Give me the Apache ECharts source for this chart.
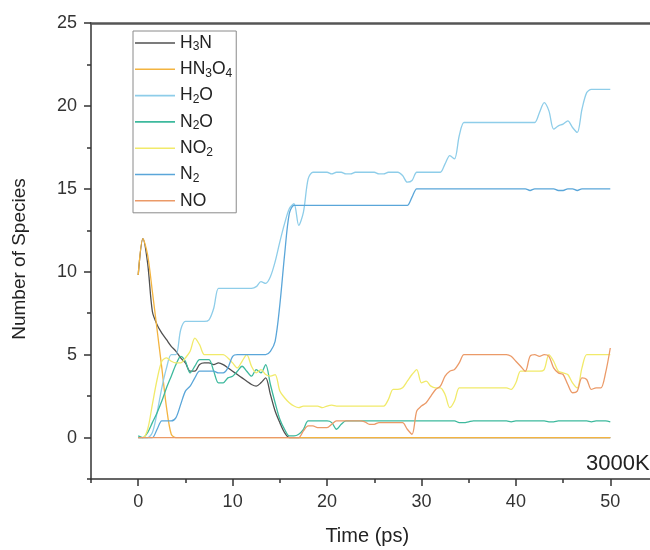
<!DOCTYPE html>
<html>
  <head>
    <title>Species vs time, 3000K</title>
    <meta charset='utf-8' />
    <script src="https://cdn.jsdelivr.net/npm/echarts@6/dist/echarts.min.js"></script>
    <style>
      html, body { margin: 0; padding: 0; background: #fff; }
    </style>
  </head>
  <body>
    <div id="content" style="width: 650px; height: 550px;"></div>

    <script type="text/javascript">
      // time axis, one sample every 0.5 ps from 0 to 50 ps
      var TIME = [];
      for (var k = 0; k <= 100; k++) { TIME.push(k / 2); }

      var NAMES = ['H3N', 'HN3O4', 'H2O', 'N2O', 'NO2', 'N2', 'NO'];
      var COLORS = ['#505050', '#f3b440', '#8ecde9', '#3db99d', '#f1ea6a', '#5aa6d9', '#eb9a68'];

      var X_LABELS = [0, 10, 20, 30, 40, 50];
      var X_MINOR = [-5, 5, 15, 25, 35, 45, 55];
      var Y_LABELS = [0, 5, 10, 15, 20, 25];
      var Y_MINOR = [-2.5, 2.5, 7.5, 12.5, 17.5, 22.5];

      // values, one per 0.5 ps
      var H3N = [
        9.8, 12, 10.5, 7.6, 6.8, 6.3, 5.9, 5.5, 5.2, 4.8,
        4.5, 4.0, 4.0, 4.4, 4.5, 4.5, 4.4, 4.5, 4.4, 4.2,
        4.0, 3.8, 3.6, 3.4, 3.2, 3.1, 3.3, 3.6, 2.6, 1.6,
        0.9, 0.3, 0, 0, 0, 0, 0, 0, 0, 0,
        0, 0, 0, 0, 0, 0, 0, 0, 0, 0,
        0, 0, 0, 0, 0, 0, 0, 0, 0, 0,
        0, 0, 0, 0, 0, 0, 0, 0, 0, 0,
        0, 0, 0, 0, 0, 0, 0, 0, 0, 0,
        0, 0, 0, 0, 0, 0, 0, 0, 0, 0,
        0, 0, 0, 0, 0, 0, 0, 0, 0, 0,
        0
      ];
      var HN3O4 = [
        9.8, 12, 11, 8.8, 6.5, 4.2, 1.8, 0.2, 0, 0,
        0, 0, 0, 0, 0, 0, 0, 0, 0, 0,
        0, 0, 0, 0, 0, 0, 0, 0, 0, 0,
        0, 0, 0, 0, 0, 0, 0, 0, 0, 0,
        0, 0, 0, 0, 0, 0, 0, 0, 0, 0,
        0, 0, 0, 0, 0, 0, 0, 0, 0, 0,
        0, 0, 0, 0, 0, 0, 0, 0, 0, 0,
        0, 0, 0, 0, 0, 0, 0, 0, 0, 0,
        0, 0, 0, 0, 0, 0, 0, 0, 0, 0,
        0, 0, 0, 0, 0, 0, 0, 0, 0, 0,
        0
      ];
      var H2O = [
        0, 0, 0, 0.3, 1.5, 3.0, 4.2, 5.0, 5.0, 6.5,
        7.0, 7.0, 7.0, 7.0, 7.0, 7.1, 7.8, 9.0, 9.0, 9.0,
        9.0, 9.0, 9.0, 9.0, 9.0, 9.1, 9.4, 9.3, 9.7, 10.6,
        11.8, 12.9, 13.8, 14.1, 12.8, 13.6, 15.6, 16.0, 16.0, 16.0,
        16.0, 15.9, 16.0, 16.0, 15.9, 15.9, 16.0, 16.0, 16.0, 16.0,
        16.0, 15.9, 15.9, 16.0, 16.0, 16.0, 15.8, 15.4, 15.5, 16.0,
        16.0, 16.0, 16.0, 16.0, 16.0, 16.5, 17.0, 16.8, 18.2, 19.0,
        19.0, 19.0, 19.0, 19.0, 19.0, 19.0, 19.0, 19.0, 19.0, 19.0,
        19.0, 19.0, 19.0, 19.0, 19.0, 19.6, 20.2, 19.7, 18.6, 18.8,
        18.9, 19.1, 18.7, 18.4, 19.8, 20.8, 21.0, 21.0, 21.0, 21.0,
        21.0
      ];
      var N2O = [
        0.1, 0, 0.3, 0.9, 1.5, 2.2, 3.0, 3.7, 4.4, 4.9,
        4.6, 3.9, 4.3, 4.7, 4.7, 4.7, 4.0, 3.3, 3.3, 3.6,
        3.7, 4.0, 4.3, 4.0, 3.7, 4.1, 3.9, 4.4, 3.2, 2.1,
        1.1, 0.5, 0.1, 0.1, 0.2, 0.5, 1.0, 1.0, 1.0, 1.0,
        1.0, 0.9, 0.5, 0.8, 1.0, 1.0, 1.0, 1.0, 1.0, 1.0,
        1.0, 1.0, 1.0, 1.0, 1.0, 1.0, 1.0, 1.0, 1.0, 1.0,
        1.0, 1.0, 1.0, 1.0, 1.0, 1.0, 1.0, 1.0, 0.9, 0.9,
        0.95, 1.0, 1.0, 1.0, 1.0, 1.0, 1.0, 1.0, 1.0, 0.95,
        1.0, 1.0, 1.0, 1.0, 1.0, 1.0, 1.0, 0.95, 0.95, 1.0,
        1.0, 1.0, 1.0, 1.0, 1.0, 1.0, 0.95, 1.0, 1.0, 1.0,
        0.95
      ];
      var NO2 = [
        0, 0, 0.5, 2.0, 3.5, 4.6, 4.8, 4.6, 4.5, 4.5,
        4.8, 5.2, 6.0, 5.6, 5.0, 5.0, 5.0, 5.0, 5.0, 4.8,
        4.5, 4.2, 4.6, 5.0, 4.3, 3.9, 4.1, 3.8, 3.7, 3.8,
        2.8, 2.4, 2.1, 1.9, 1.8, 1.9, 1.9, 1.9, 1.9, 1.8,
        1.9, 1.95, 1.9, 1.9, 1.9, 1.9, 1.9, 1.9, 1.9, 1.9,
        1.9, 1.9, 1.9, 2.3, 2.9, 2.9, 3.0, 3.4, 3.8, 4.1,
        3.3, 3.4, 3.1, 3.0, 3.0, 2.6, 1.8, 2.2, 3.0, 3.0,
        3.0, 3.0, 3.0, 3.0, 3.0, 3.0, 3.0, 3.0, 3.0, 2.9,
        3.3, 4.0, 4.0, 4.0, 4.0, 4.0, 4.1, 5.0, 4.6, 4.0,
        3.9, 3.8, 3.3, 3.0, 4.2, 5.0, 5.0, 5.0, 5.0, 5.0,
        5.0
      ];
      var N2 = [
        0, 0, 0, 0, 0.5, 1.0, 1.0, 1.0, 1.2, 2.0,
        2.8, 3.1, 3.6, 4.0, 4.0, 4.0, 4.0, 3.9, 3.9, 4.2,
        4.9, 5.0, 5.0, 5.0, 5.0, 5.0, 5.0, 5.0, 5.2, 5.8,
        8.0, 11.0, 13.5, 14.0, 14.0, 14.0, 14.0, 14.0, 14.0, 14.0,
        14.0, 14.0, 14.0, 14.0, 14.0, 14.0, 14.0, 14.0, 14.0, 14.0,
        14.0, 14.0, 14.0, 14.0, 14.0, 14.0, 14.0, 14.0, 14.5, 15.0,
        15.0, 15.0, 15.0, 15.0, 15.0, 15.0, 15.0, 15.0, 15.0, 15.0,
        15.0, 15.0, 15.0, 15.0, 15.0, 15.0, 15.0, 15.0, 15.0, 15.0,
        15.0, 15.0, 15.0, 14.9, 15.0, 15.0, 15.0, 15.0, 15.0, 14.9,
        14.9, 15.0, 15.0, 14.9, 15.0, 15.0, 15.0, 15.0, 15.0, 15.0,
        15.0
      ];
      var NO = [
        0, 0, 0, 0, 0, 0, 0, 0, 0, 0,
        0, 0, 0, 0, 0, 0, 0, 0, 0, 0,
        0, 0, 0, 0, 0, 0, 0, 0, 0, 0,
        0, 0, 0, 0, 0, 0.4, 0.7, 0.7, 0.6, 0.6,
        0.6, 0.8, 1.0, 1.0, 1.0, 1.0, 1.0, 1.0, 0.95, 0.8,
        0.8, 0.9, 0.9, 0.9, 0.9, 0.9, 0.9, 0.5, 0.2, 1.6,
        1.9, 2.1, 2.5, 2.9, 3.1, 3.7, 4.0, 4.1, 4.5, 5.0,
        5.0, 5.0, 5.0, 5.0, 5.0, 5.0, 5.0, 5.0, 5.0, 4.9,
        4.6, 4.3, 4.0, 4.9, 5.0, 4.9, 5.0, 4.9, 4.2, 3.9,
        3.8, 3.2, 2.7, 2.8, 3.6, 3.5, 2.9, 3.0, 3.0, 3.9,
        5.4
      ];

      var VALUES = [H3N, HN3O4, H2O, N2O, NO2, N2, NO];
      var FONT = 'Arial, "Liberation Sans", sans-serif';

      function pairs(vals) {
        return TIME.map(function (t, i) { return [t, vals[i]]; });
      }

      var series = NAMES.map(function (name, i) {
        return {
          name: name,
          type: 'line',
          xAxisIndex: 0,
          yAxisIndex: 0,
          symbol: 'none',
          smooth: 0.3,
          lineStyle: { width: 1.3, color: COLORS[i] },
          itemStyle: { color: COLORS[i] },
          data: pairs(VALUES[i])
        };
      });

      var myChart = echarts.init(document.getElementById('content'));
      var options = {
        animation: false,
        backgroundColor: '#fff',
        textStyle: { fontFamily: FONT },
        // the plot runs past the right edge of the picture, so no fitting
        grid: { left: 91, top: 23, width: 566.5, height: 456, outerBoundsMode: 'none', containLabel: false },
        legend: {
          orient: 'vertical',
          left: 133,
          top: 31,
          padding: [2, 4, 2, 2],
          itemGap: 6.3,
          itemWidth: 40,
          itemHeight: 1.6,
          icon: 'rect',
          borderColor: '#8a8a8a',
          borderWidth: 1,
          data: NAMES,
          formatter: function (name) {
            return name.replace(/(\d+)/g, '{s|$1}');
          },
          textStyle: {
            fontFamily: FONT,
            fontSize: 17.5,
            color: '#222',
            lineHeight: 20,
            rich: {
              s: { fontFamily: FONT, fontSize: 12, lineHeight: 12, verticalAlign: 'bottom', color: '#222' }
            }
          }
        },
        graphic: [{
          type: 'text',
          left: 586,
          top: 453,
          style: { text: '3000K', fontFamily: FONT, fontSize: 22, fill: '#222' }
        }],
        xAxis: [{
          type: 'value',
          position: 'bottom',
          min: -5,
          max: 55,
          name: 'Time (ps)',
          nameLocation: 'middle',
          nameGap: 47,
          nameTextStyle: { fontFamily: FONT, fontSize: 20, color: '#222', padding: [0, 14, 0, 0] },
          splitLine: { show: false },
          axisLine: { onZero: false, lineStyle: { color: '#333', width: 1.5 } },
          axisTick: { customValues: X_LABELS, length: 7, lineStyle: { color: '#333', width: 1.5 } },
          axisLabel: { customValues: X_LABELS, margin: 14, fontSize: 18, color: '#333', fontFamily: FONT }
        }, {
          type: 'value',
          position: 'bottom',
          min: -5,
          max: 55,
          splitLine: { show: false },
          axisLine: { show: false, onZero: false },
          axisTick: { customValues: X_MINOR, length: 4, lineStyle: { color: '#333', width: 1.5 } },
          axisLabel: { show: false }
        }, {
          type: 'value',
          position: 'top',
          min: -5,
          max: 55,
          splitLine: { show: false },
          axisLine: { onZero: false, lineStyle: { color: '#555', width: 2.5 } },
          axisTick: { show: false },
          axisLabel: { show: false }
        }],
        yAxis: [{
          type: 'value',
          position: 'left',
          min: -2.5,
          max: 25,
          name: 'Number of Species',
          nameLocation: 'middle',
          nameGap: 62,
          nameTextStyle: { fontFamily: FONT, fontSize: 19, color: '#222', padding: [0, 16, 0, 0] },
          splitLine: { show: false },
          axisLine: { onZero: false, lineStyle: { color: '#333', width: 1.5 } },
          axisTick: { customValues: Y_LABELS, length: 7, lineStyle: { color: '#333', width: 1.5 } },
          axisLabel: { customValues: Y_LABELS, margin: 14, fontSize: 18, color: '#333', fontFamily: FONT }
        }, {
          type: 'value',
          position: 'left',
          min: -2.5,
          max: 25,
          splitLine: { show: false },
          axisLine: { show: false, onZero: false },
          axisTick: { customValues: Y_MINOR, length: 4, lineStyle: { color: '#333', width: 1.5 } },
          axisLabel: { show: false }
        }],
        series: series
      };
      myChart.setOption(options);
    </script>
  </body>
</html>
